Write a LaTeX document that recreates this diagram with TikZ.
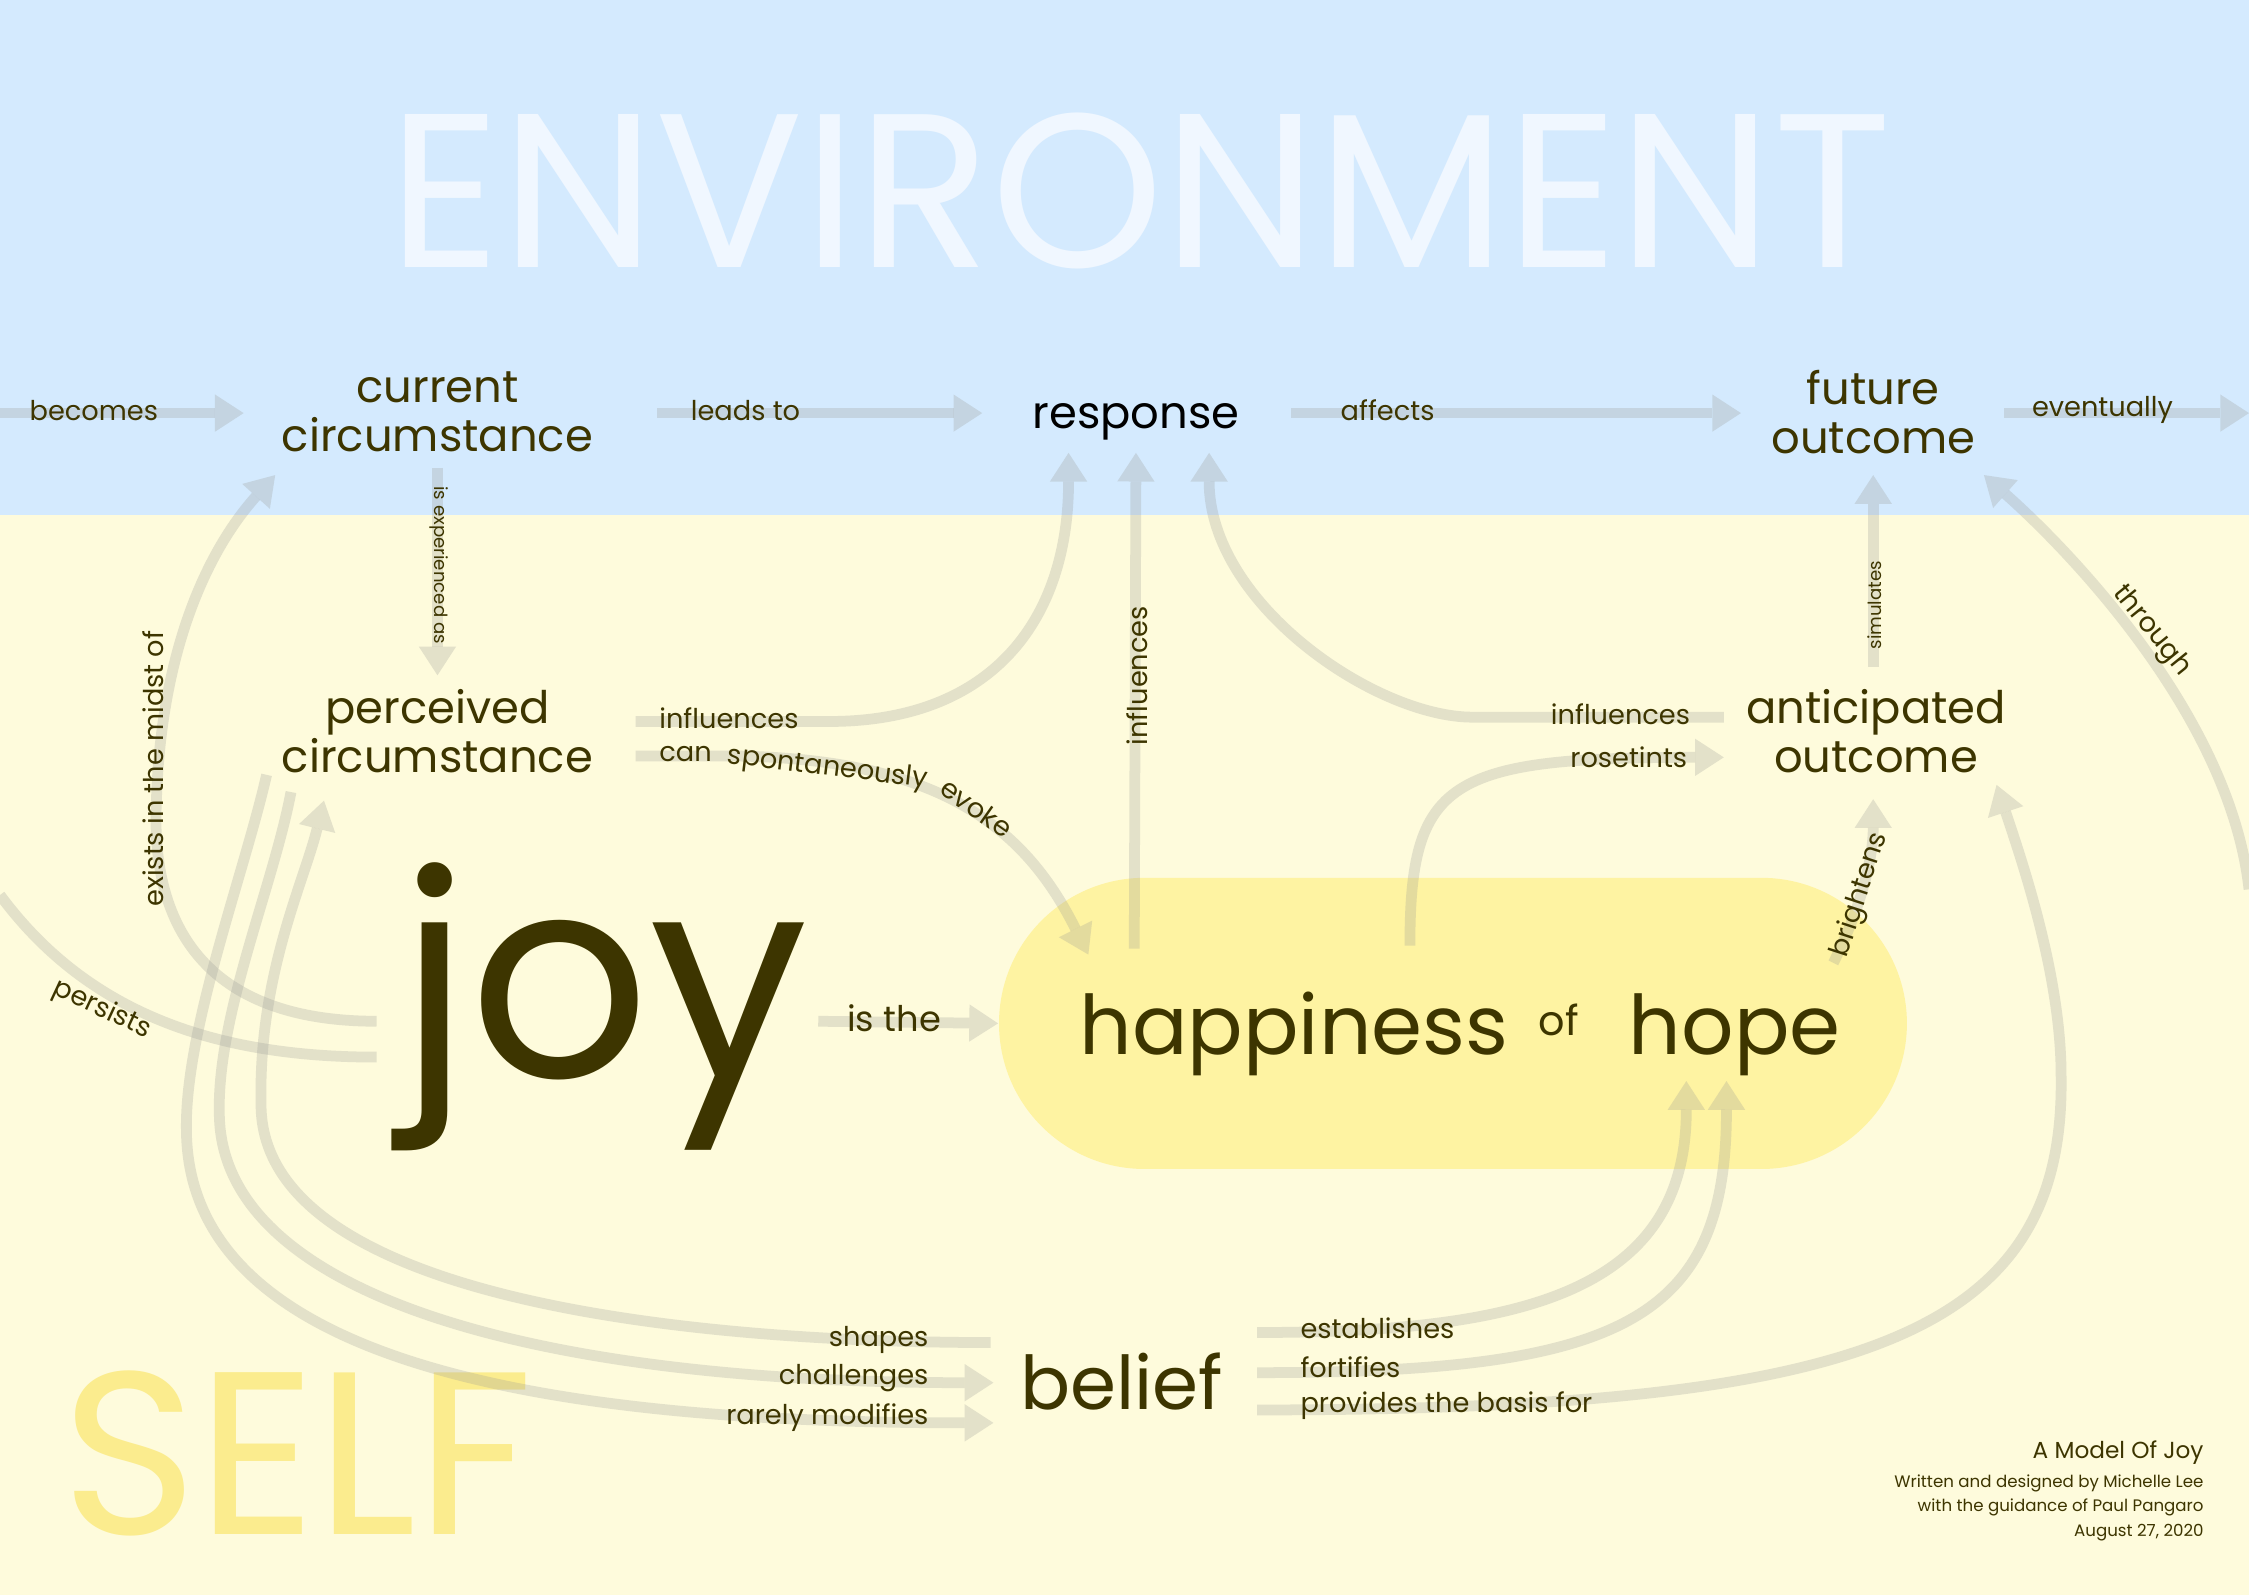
\documentclass[tikz,border=0pt]{standalone}
\usepackage{fontspec}
\setmainfont{Poppins}
\usetikzlibrary{arrows.meta,calc,positioning}
\definecolor{envblue}{HTML}{D4EAFE}
\definecolor{envword}{HTML}{F0F7FF}
\definecolor{selfcream}{HTML}{FEFBDC}
\definecolor{selfword}{HTML}{FBEC8E}
\definecolor{hopepill}{HTML}{FEF3A2}
\definecolor{inkolive}{HTML}{3D3500}
\definecolor{linkgray}{HTML}{9B9B96}
\begin{document}
\begin{tikzpicture}[x=0.1mm, y=-0.1mm,
    conn/.style={draw=linkgray, opacity=.27, line width=0.75mm,
        -{Triangle[length=2mm,width=2.6mm,line width=0pt]}},
    plain/.style={draw=linkgray, opacity=.27, line width=0.75mm},
    concept/.style={text=inkolive, inner sep=0pt, align=center,
        font=\fontsize{8.9}{9.7}\selectfont},
    lbl/.style={text=inkolive, inner sep=0pt, font=\fontsize{5.4}{6}\selectfont},
    tiny/.style={lbl, font=\fontsize{3.6}{4}\selectfont},
    credit/.style={text=inkolive, inner sep=0pt, anchor=base east,
        font=\fontsize{3.3}{4}\selectfont}
    ]
    % backgrounds
    \useasboundingbox (0,0) rectangle (1568,1112);
    \fill[envblue] (0,0) rectangle (1568,359);
    \fill[selfcream] (0,359) rectangle (1568,1112);
    \node[text=envword, inner sep=0pt, font=\fontsize{43.5}{44}\selectfont] (envtitle) at (795,133) {ENVIRONMENT};
    \node[text=selfword, inner sep=0pt, anchor=west, font=\fontsize{46}{46}\selectfont] (selftitle) at (42,1013) {SELF};
    \node[fill=hopepill, rounded corners=10.15mm, minimum width=63.3mm, minimum height=20.3mm, inner sep=0pt] (hap) at (1013,713.5) {};

    % concepts
    \node[concept, minimum width=21.3mm, minimum height=6.3mm] (cur) at (305,287) {current\\circumstance};
    \node[concept, text=black, minimum width=14.5mm, minimum height=3mm] (resp) at (792,294) {response};
    \node[concept, minimum width=14.3mm, minimum height=6.3mm] (fut) at (1306,287) {future\\outcome};
    \node[concept, minimum width=21.3mm, minimum height=6.5mm] (perc) at (305,510) {perceived\\circumstance};
    \node[concept, minimum width=18.7mm, minimum height=6.5mm] (anti) at (1308,510) {anticipated\\outcome};
    \node[concept, font=\fontsize{56}{56}\selectfont, minimum width=28.2mm, minimum height=19.5mm] (joy) at (421,702) {joy};
    \node[concept, font=\fontsize{14.7}{15}\selectfont, minimum width=14mm, minimum height=4.5mm] (belief) at (782,963) {belief};
    \node[concept, font=\fontsize{16.3}{17}\selectfont, anchor=base west] (hapword) at (752,735) {happiness};
    \node[concept, font=\fontsize{8.2}{9}\selectfont, anchor=base west] (ofword) at (1072,722) {of};
    \node[concept, font=\fontsize{16.3}{17}\selectfont, anchor=base west] (hopeword) at (1135,735) {hope};

    % off-page ends
    \coordinate (lftedge) at (0,288);
    \coordinate (rgtedge) at (1568,288);
    \coordinate (lftlow) at (0,624);
    \coordinate (rgtlow) at (1568,620);

    % environment row
    \draw[conn] (lftedge) -- ($(cur.west)+(-26,1)$);
    \draw[conn] ($(cur.east)+(44,1)$) -- ($(resp.west)+(-34,-6)$);
    \draw[conn] ($(resp.east)+(35,-6)$) -- ($(fut.west)+(-20,1)$);
    \draw[conn] ($(fut.east)+(19,1)$) -- (rgtedge);
    \draw[conn] ($(cur.south)+(0,7)$) -- ($(perc.north)+(0,-6)$);
    \draw[conn] ($(anti.north)+(-2,-12)$) -- ($(fut.south)+(0,12)$);

    % into response and the pill
    \draw[conn] ($(perc.east)+(29,-7)$) -- ++(135,0) .. controls +(115,0) and +(0,115) .. ($(resp.south)+(-47,6)$);
    \draw[conn] ($(perc.east)+(29,17)$) -- ++(60,0) .. controls +(150,0) and +(-45,-90) .. ($(hap.west)+(63,-48)$);
    \draw[conn] ($(hap.north west)+(95,50)$) -- ($(resp.south)+(0,6)$);
    \draw[conn] ($(anti.west)+(-12,-10)$) -- ++(-175,0) .. controls +(-68,0) and +(0,105) .. ($(resp.south)+(51,6)$);
    \draw[conn] ($(hap.north)+(-30,48)$) .. controls +(0,-115) and +(-193,0) .. ($(anti.west)+(-12,18)$);
    \draw[conn] ($(hap.north east)+(-52,60)$) .. controls +(20,-40) and +(0,40) .. ($(anti.south)+(-2,14)$);
    \draw[conn] (rgtlow) .. controls +(-13,-120) and +(60,53) .. ($(fut.south east)+(5,12)$);

    % joy
    \draw[conn] ($(joy.east)+(6,10)$) -- (hap.west);
    \draw[plain] ($(joy.west)+(-15,35)$) .. controls +(-115,0) and +(60,81) .. (lftlow);
    \draw[conn] ($(joy.west)+(-15,10)$) .. controls +(-115,0) and (105,650) .. (109,560)
        .. controls (112,450) and +(-45,50) .. ($(cur.south west)+(-4,12)$);

    % belief
    \draw[conn] ($(belief.west)+(-20,-27)$) .. controls +(-192,0) and (182,910) .. (182,770)
        .. controls (180,680) and +(-14,57) .. ($(perc.south west)+(30,15)$);
    \draw[conn] ($(perc.south west)+(7,9)$) .. controls (190,620) and (150,710) .. (153,780)
        .. controls (158,905) and +(-314,0) .. ($(belief.west)+(-18,1)$);
    \draw[conn] ($(perc.south west)+(-10,-3)$) .. controls (170,610) and (128,720) .. (130,790)
        .. controls (133,940) and +(-344,0) .. ($(belief.west)+(-18,29)$);
    \draw[conn] ($(belief.east)+(23,-34)$) .. controls +(185,0) and +(0,147) .. ($(hap.south east)+(-154.5,-62)$);
    \draw[conn] ($(belief.east)+(23,-6)$) .. controls +(255,0) and +(0,167) .. ($(hap.south east)+(-126.5,-62)$);
    \draw[conn] ($(belief.east)+(23,20)$) .. controls +(425,0) and (1440,930) .. (1437,750)
        .. controls (1437,680) and +(18,54) .. ($(anti.south)+(84,4)$);

    % labels
    \node[lbl, anchor=west] (lbecomes) at (20,286) {becomes};
    \node[lbl, anchor=west] (lleads) at (481,286) {leads to};
    \node[lbl, anchor=west] (laffects) at (934,286) {affects};
    \node[lbl, anchor=west] (leventually) at (1416,286) {eventually};
    \node[tiny, rotate=-90] (lexp) at (306,394) {is experienced as};
    \node[tiny, rotate=90] (lsim) at (1307,422) {simulates};
    \node[lbl, rotate=90] (linfmid) at (793,471) {influences};
    \node[lbl, rotate=90] (lexists) at (107,536) {exists in the midst of};
    \node[lbl, anchor=west] (linfperc) at (459,501) {influences};
    \node[lbl, anchor=west] (lcan) at (459,526) {can};
    \node[lbl, rotate=-7] (lspont) at (577,536) {spontaneously};
    \node[lbl, rotate=-35] (levoke) at (681,563) {evoke};
    \node[lbl, anchor=east] (linfanti) at (1179,498) {influences};
    \node[lbl, anchor=east] (lrose) at (1177,528) {rosetints};
    \node[lbl, rotate=72] (lbright) at (1297,624) {brightens};
    \node[lbl, rotate=-51] (lthrough) at (1500,440) {through};
    \node[lbl, rotate=-25] (lpersists) at (71,704) {persists};
    \node[lbl, anchor=west, font=\fontsize{7}{8}\selectfont] (listhe) at (590,710) {is the};
    \node[lbl, anchor=east] (lshapes) at (648,934) {shapes};
    \node[lbl, anchor=east] (lchall) at (648,961) {challenges};
    \node[lbl, anchor=east] (lrarely) at (648,988) {rarely modifies};
    \node[lbl, anchor=west] (lestab) at (906,926) {establishes};
    \node[lbl, anchor=west] (lfort) at (906,953) {fortifies};
    \node[lbl, anchor=west] (lbasis) at (906,980) {provides the basis for};

    % credits
    \node[credit, font=\fontsize{4.6}{5}\selectfont] (ctitle) at (1537,1017) {A Model Of Joy};
    \node[credit] (cauthor) at (1537,1037) {Written and designed by Michelle Lee};
    \node[credit] (cguide) at (1537,1054) {with the guidance of Paul Pangaro};
    \node[credit] (cdate) at (1537,1071) {August 27, 2020};
\end{tikzpicture}
\end{document}
